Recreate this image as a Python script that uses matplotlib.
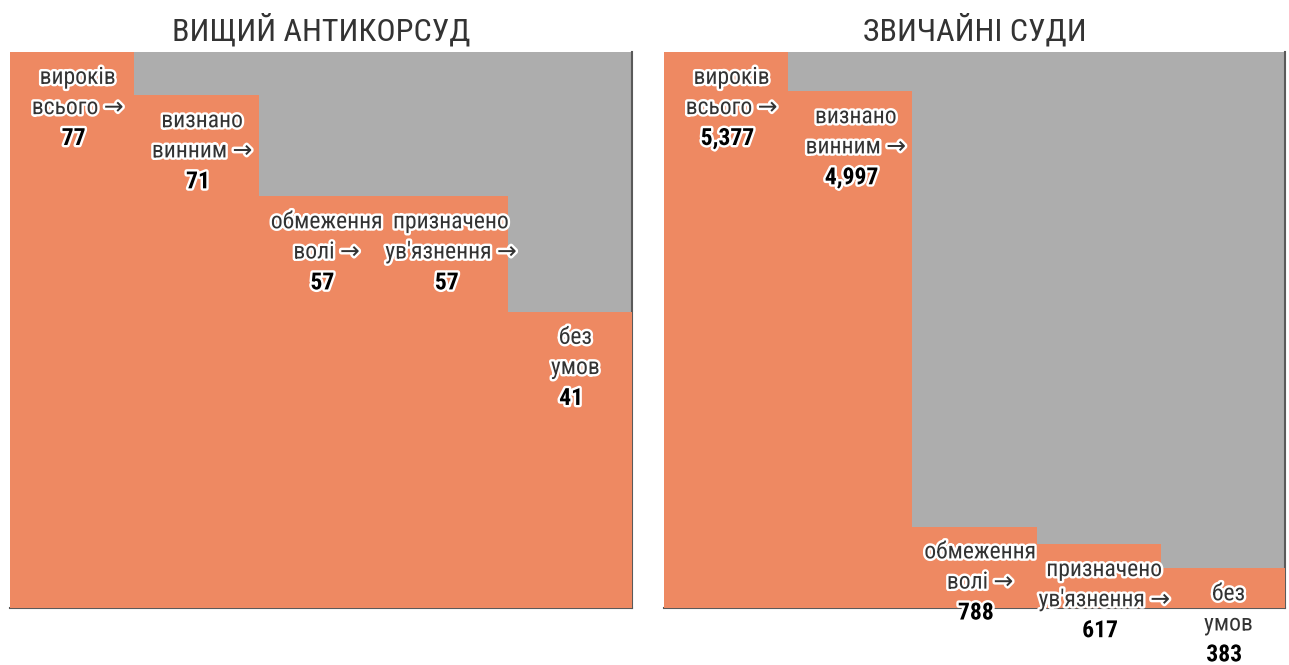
import matplotlib.pyplot as plt
import matplotlib.patheffects as pe

plt.rcParams['font.family'] = ['Roboto Condensed', 'Liberation Sans Narrow', 'Roboto', 'DejaVu Sans']

labels = ["вироків\nвсього →", "визнано\nвинним →", "обмеження\nволі →",
          "призначено\nув'язнення →", "без\nумов"]
hacc = [77, 71, 57, 57, 41]
general = [5377, 4997, 788, 617, 383]
titles = ["ВИЩИЙ АНТИКОРСУД", "ЗВИЧАЙНІ СУДИ"]

orange = "#ee8962"
grey = "#adadad"

fig = plt.figure(figsize=(12.89, 6.65), dpi=100)
ax1 = fig.add_axes([10/1289, 57/665, 622/1289, 556/665])
ax2 = fig.add_axes([664/1289, 57/665, 621/1289, 556/665])

halo = [pe.withStroke(linewidth=3.5, foreground="white")]

for ax, vals, title in [(ax1, hacc, titles[0]), (ax2, general, titles[1])]:
    x = range(len(vals))
    ax.bar(x, vals, width=1.0, color=orange, zorder=3)
    ax.set_xlim(-0.5, len(vals) - 0.5)
    ax.set_ylim(0, max(vals))
    ax.set_facecolor(grey)
    ax.set_xticks([])
    ax.set_yticks([])
    ax.spines["top"].set_visible(False)
    ax.spines["left"].set_visible(False)
    ax.spines["right"].set_color("#5a5a5a")
    ax.spines["right"].set_linewidth(1.5)
    ax.spines["bottom"].set_color("#5a5a5a")
    ax.spines["bottom"].set_linewidth(1.5)
    ax.set_title(title, fontsize=23, color="#333333", pad=8)

    for i, v in enumerate(vals):
        ax.annotate(labels[i], (i, v), xytext=(4, -10), textcoords="offset points",
                    ha="center", va="top", fontsize=17, color="#333333",
                    linespacing=1.4, path_effects=halo, zorder=5)
        ax.annotate(f"{v:,}", (i, v), xytext=(1, -54), textcoords="offset points",
                    ha="center", va="top", fontsize=17, fontweight="bold",
                    color="black", path_effects=halo, zorder=5,
                    annotation_clip=False)

fig.savefig("out.png", dpi=100)
